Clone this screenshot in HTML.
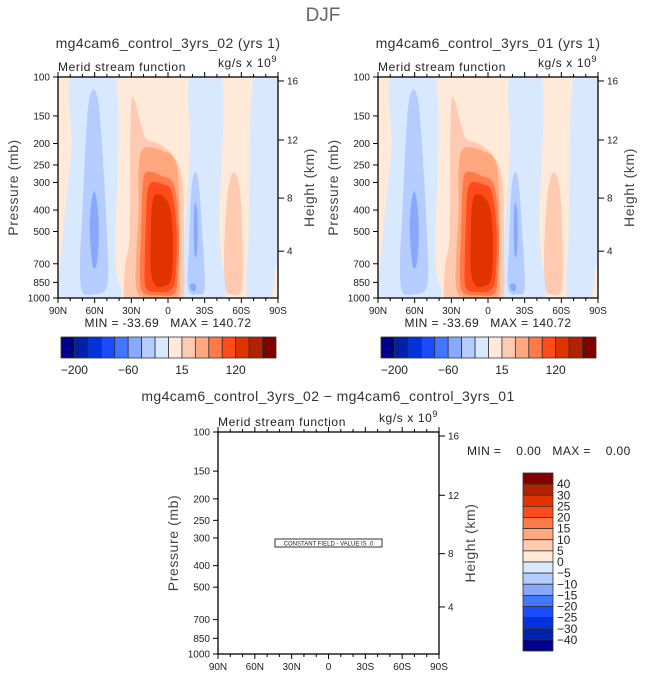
<!DOCTYPE html>
<html><head><meta charset="utf-8"><style>
body{margin:0;background:#fff;}
svg{display:block;font-family:"Liberation Sans",sans-serif;}
.pre{white-space:pre;}
</style></head><body>
<svg id="fig" width="647" height="677" viewBox="0 0 647 677">
<text x="323" y="21" font-size="19" fill="#666" text-anchor="middle">DJF</text>
<text x="168" y="48" font-size="14" fill="#333" text-anchor="middle" letter-spacing="0.4">mg4cam6_control_3yrs_02 (yrs 1)</text>
<text x="488" y="48" font-size="14" fill="#333" text-anchor="middle" letter-spacing="0.4">mg4cam6_control_3yrs_01 (yrs 1)</text>
<text x="328" y="401" font-size="14" fill="#333" text-anchor="middle" letter-spacing="0.4">mg4cam6_control_3yrs_02 − mg4cam6_control_3yrs_01</text>
</svg>
<script>
const pressureTicks=[100,150,200,250,300,400,500,700,850,1000];
const latTicks=[90,60,30,0,-30,-60,-90];
const latLabels=["90N","60N","30N","0","30S","60S","90S"];
const heightTicks=[16,12,8,4];
const heightFrac=[0.018,0.285,0.548,0.788];
const cbColors=["#00008a","#0022aa","#0033dd","#1a4cff","#4477ff","#86a8ff","#b5ccff","#d8e9ff","#ffe9d8","#ffcab0","#ffa880","#ff7a48","#ff4a1a","#e03300","#b32200","#800000"];
const cbTopLabels=["-200","-60","15","120"];
const cbTopLabelIdx=[1,5,9,13];
const cbDiffLabels=["40","30","25","20","15","10","5","0","-5","-10","-15","-20","-25","-30","-40"];
const fieldMin=-33.69, fieldMax=140.72;
// contour regions: [colorIndex, polygon of [lat, pressure]]
const regions=[
 [7,[[79,100],[43,100],[43,600],[40,850],[38,960],[45,1000],[87,1000],[88,700],[84,400],[79,200]]],
 [7,[[-18,100],[-44,100],[-42,500],[-46,1000],[-8,1000],[-10,900],[-14,500],[-18,200]]],
 [7,[[-70,100],[-90,100],[-90,650],[-88,700],[-85,950],[-78,1000],[-65,1000],[-66,500]]],
 [6,[[62,115],[57,130],[53,250],[50,500],[49,800],[52,930],[60,960],[70,940],[72,700],[70,400],[66,150]]],
 [5,[[60,330],[57,420],[57,600],[59,720],[62,700],[64,500],[63,380]]],
 [9,[[28,125],[24,150],[18,190],[8,200],[-5,230],[-12,300],[-13,600],[-13,950],[-8,1000],[33,1000],[36,980],[35,700],[32,580],[31,400],[31,200],[30,130]]],
 [10,[[20,210],[5,215],[-6,240],[-9,350],[-9,700],[-9,960],[0,990],[20,990],[26,900],[26,650],[24,400],[24,260]]],
 [11,[[18,270],[5,280],[-5,310],[-9,500],[-8,800],[-5,960],[8,975],[20,950],[23,800],[22,500],[21,330]]],
 [12,[[14,300],[5,305],[-3,330],[-7,500],[-6,800],[-2,920],[8,940],[18,900],[19,700],[18,450],[17,340]]],
 [13,[[10,340],[3,350],[-2,400],[-4,550],[-3,800],[2,880],[10,880],[14,750],[14,500],[13,380]]],
 [6,[[-22,270],[-19,330],[-17,600],[-16,850],[-18,950],[-24,960],[-30,900],[-28,500],[-25,300]]],
 [5,[[-22,370],[-21,500],[-22,650],[-24,600],[-24,420]]],
 [5,[[-18,870],[-19,920],[-22,930],[-23,880],[-21,860]]],
 [9,[[-54,270],[-49,330],[-46,600],[-47,900],[-52,960],[-60,930],[-61,600],[-59,330]]]
];
const svg=document.getElementById('fig');
const NS='http://www.w3.org/2000/svg';
function mk(tag,attrs,parent){const e=document.createElementNS(NS,tag);for(const k in attrs)e.setAttribute(k,attrs[k]);(parent||svg).appendChild(e);return e;}
function txt(x,y,s,size,anchor,parent,fill){const t=mk('text',{x:x,y:y,'font-size':size,'text-anchor':anchor||'start',fill:fill||'#222'},parent);t.textContent=s;return t;}
function smooth(pts){let d='';const n=pts.length;for(let i=0;i<n;i++){const p0=pts[(i-1+n)%n],p1=pts[i],p2=pts[(i+1)%n],p3=pts[(i+2)%n];if(i===0)d+='M'+p1[0]+','+p1[1];const c1=[p1[0]+(p2[0]-p0[0])/6,p1[1]+(p2[1]-p0[1])/6],c2=[p2[0]-(p3[0]-p1[0])/6,p2[1]-(p3[1]-p1[1])/6];d+='C'+c1+' '+c2+' '+p2;}return d+'Z';}
function panel(L,T,W,H,name,filled){
 const g=mk('g',{});
 
 
 const xs=lat=>L+W*(90-lat)/180;
 const ys=p=>T+H*(Math.log10(p)-2);
 const cid='clip-'+name;
 const cp=mk('clipPath',{id:cid},g);mk('rect',{x:L,y:T,width:W,height:H},cp);
 if(filled){
  const bg=mk('rect',{x:L,y:T,width:W,height:H,fill:cbColors[8]},g);
  
  
  const cg=mk('g',{'clip-path':'url(#'+cid+')'},g);
  regions.forEach((r,i)=>{const pts=r[1].map(q=>[xs(q[0]),ys(q[1])]);const p=mk('path',{d:smooth(pts),fill:cbColors[r[0]]},cg);
   
   });
 }
 const fr=mk('rect',{x:L,y:T,width:W,height:H,fill:'none',stroke:'#000','stroke-width':1.3},g);
 
 
 pressureTicks.forEach(p=>{const y=ys(p);mk('line',{x1:L-5,x2:L,y1:y,y2:y,stroke:'#000'},g);const t=txt(L-8,y+3.5,String(p),10,'end',g);
  
  });
 for(let lat=90;lat>=-90;lat-=10){const x=xs(lat);const major=lat%30===0;mk('line',{x1:x,x2:x,y1:T+H,y2:T+H+(major?5:3),stroke:'#000'},g);mk('line',{x1:x,x2:x,y1:T,y2:T-(major?5:3),stroke:'#000'},g);}
 latTicks.forEach((lat,i)=>{const t=txt(xs(lat),T+H+16,latLabels[i],10,'middle',g);
  
  });
 heightTicks.forEach((h,i)=>{const y=T+H*heightFrac[i];mk('line',{x1:L+W,x2:L+W+6,y1:y,y2:y,stroke:'#000'},g);const t=txt(L+W+9,y+3.5,String(h),10,'start',g);
  
  });
 const yt=txt(0,0,'Pressure (mb)',14,'middle',g,'#444');yt.setAttribute('transform','translate('+(L-40)+','+(T+H/2)+') rotate(-90)');yt.setAttribute('letter-spacing','0.6');
 
 
 const ht=txt(0,0,'Height (km)',14,'middle',g,'#444');ht.setAttribute('transform','translate('+(L+W+36)+','+(T+H/2)+') rotate(-90)');ht.setAttribute('letter-spacing','0.6');
 
 
 const st=txt(L,T-6,'Merid stream function',12,'start',g);st.setAttribute('letter-spacing','0.6');
 
 
 const un=txt(L+W-1,T-10,'kg/s x 10',12,'end',g);un.setAttribute('letter-spacing','0.6');
 const sup=mk('tspan',{'font-size':9,dy:-5},un);sup.textContent='9';
 
 
 return {xs,ys,g};
}
function minmax(cx,y,a,b){const t=txt(cx,y,'MIN = '+a.toFixed(2)+'   MAX = '+b.toFixed(2),12,'middle');t.setAttribute('class','pre');t.setAttribute('letter-spacing','0.4');
 
 }
function hbar(L,T,W,H,name){const g=mk('g',{});
 
 
 const bw=W/cbColors.length;cbColors.forEach((c,i)=>mk('rect',{x:L+i*bw,y:T,width:bw,height:H,fill:c,stroke:'#333','stroke-width':0.8},g));
 cbTopLabels.forEach((s,i)=>{const t=txt(L+cbTopLabelIdx[i]*bw,T+H+16,s.replace('-','−'),12,'middle',g);
  
  });}
panel(58,77,220,221,'left-panel',true);
panel(378,77,220,221,'right-panel',true);
minmax(168,327,fieldMin,fieldMax);
minmax(488,327,fieldMin,fieldMax);
hbar(61,337,215,21,'left-colorbar');
hbar(381,337,215,21,'right-colorbar');
const d=panel(218,432,221,222,'diff-panel',false);
const cf=mk('rect',{x:275,y:539,width:107,height:8,fill:'#fff',stroke:'#000','stroke-width':0.8});


const cft=txt(328.5,545.5,'CONSTANT FIELD - VALUE IS .0',6,'middle');


const mm=txt(467,455,'MIN =    0.00   MAX =    0.00',12,'start');mm.setAttribute('class','pre');mm.setAttribute('letter-spacing','0.4');


(function(){const g=mk('g',{});
 
 
 const L=523,T=473,W=30,H=178,n=cbColors.length,bh=H/n;
 for(let i=0;i<n;i++)mk('rect',{x:L,y:T+i*bh,width:W,height:bh,fill:cbColors[n-1-i],stroke:'#333','stroke-width':0.8},g);
 cbDiffLabels.forEach((s,i)=>{const t=txt(L+W+4,T+(i+1)*bh+4,s.replace('-','−'),12,'start',g);
  
  });})();
</script>
</body></html>
